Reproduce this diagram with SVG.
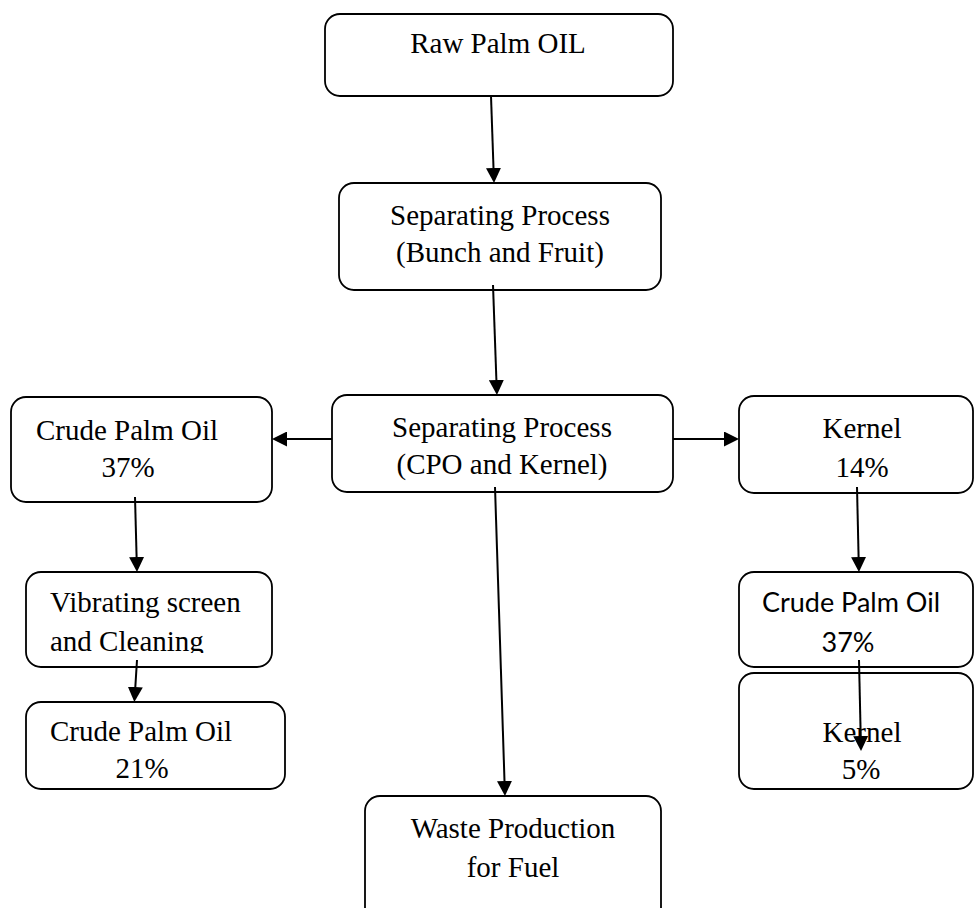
<svg xmlns="http://www.w3.org/2000/svg" width="974" height="908" viewBox="0 0 974 908">
<style>
.box{fill:#fff;stroke:#000;stroke-width:1.8}
.t{font-family:"Liberation Serif","Times New Roman",serif;font-size:29px;fill:#000}
.s{font-family:Lato,"Noto Sans",sans-serif;font-size:27px;fill:#000}
.c{text-anchor:middle}
.ln{stroke:#000;stroke-width:2;fill:none;marker-end:url(#ah)}
</style>
<defs>
<marker id="ah" markerUnits="userSpaceOnUse" markerWidth="15" markerHeight="15" refX="0" refY="7.5" orient="auto" viewBox="0 0 15 15">
<path d="M0,0 L15,7.5 L0,15 z" fill="#000"/>
</marker>
<clipPath id="clipL"><rect x="26" y="572" width="246" height="81"/></clipPath>
<clipPath id="clipR"><rect x="739" y="572" width="235" height="81"/></clipPath>
</defs>
<rect width="974" height="908" fill="#fff"/>
<g id="raw">
<rect class="box" x="325" y="14" width="348" height="82" rx="15"/>
<text class="t c" x="498" y="53">Raw Palm OIL</text>
</g>
<g id="sep1">
<rect class="box" x="339" y="183" width="322" height="107" rx="15"/>
<text class="t c" x="500" y="225">Separating Process</text>
<text class="t c" x="500" y="262">(Bunch and Fruit)</text>
</g>
<g id="sep2">
<rect class="box" x="332" y="395" width="341" height="97" rx="15"/>
<text class="t c" x="502" y="437">Separating Process</text>
<text class="t c" x="502" y="474">(CPO and Kernel)</text>
</g>
<g id="cpo37">
<rect class="box" x="11" y="397" width="261" height="105" rx="15"/>
<text class="t" x="36" y="440">Crude Palm Oil</text>
<text class="t c" x="128" y="477">37%</text>
</g>
<g id="vib">
<rect class="box" x="26" y="572" width="246" height="95" rx="15"/>
<g clip-path="url(#clipL)">
<text class="t" x="50" y="612">Vibrating screen</text>
<text class="t" x="50" y="651">and Cleaning</text>
</g>
</g>
<g id="cpo21">
<rect class="box" x="26" y="702" width="259" height="87" rx="15"/>
<text class="t" x="50" y="741">Crude Palm Oil</text>
<text class="t c" x="142" y="778">21%</text>
</g>
<g id="kernel14">
<rect class="box" x="739" y="396" width="234" height="97" rx="15"/>
<text class="t c" x="862" y="438">Kernel</text>
<text class="t c" x="862" y="477">14%</text>
</g>
<g id="cpo37r">
<rect class="box" x="739" y="572" width="234" height="95" rx="15"/>
<g clip-path="url(#clipR)">
<text class="s c" x="851" y="612">Crude Palm Oil</text>
<text class="s c" x="848" y="652">37%</text>
</g>
</g>
<g id="kernel5">
<rect class="box" x="739" y="673" width="234" height="116" rx="15"/>
<text class="t c" x="862" y="742">Kernel</text>
<text class="t c" x="861" y="779">5%</text>
</g>
<g id="waste">
<rect class="box" x="365" y="796" width="296" height="130" rx="15"/>
<text class="t c" x="513" y="838">Waste Production</text>
<text class="t c" x="513" y="877">for Fuel</text>
</g>
<g id="connectors">
<line class="ln" x1="491" y1="96" x2="493.5" y2="168"/>
<line class="ln" x1="493" y1="285" x2="496.4" y2="380"/>
<line class="ln" x1="332" y1="439" x2="287" y2="439"/>
<line class="ln" x1="673" y1="439" x2="724" y2="439"/>
<line class="ln" x1="495" y1="487" x2="504.5" y2="781"/>
<line class="ln" x1="135" y1="497" x2="136.6" y2="557"/>
<line class="ln" x1="137" y1="660" x2="135.3" y2="687"/>
<line class="ln" x1="857" y1="487" x2="858.6" y2="557"/>
<line class="ln" x1="859" y1="660" x2="860.7" y2="736"/>
</g>
</svg>
